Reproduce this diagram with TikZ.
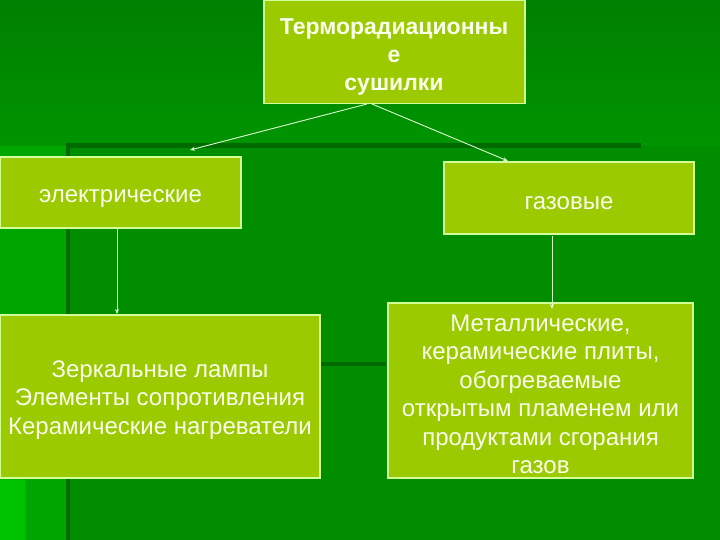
\documentclass[tikz,border=0pt]{standalone}
\usepackage{fontspec}
\setmainfont{Liberation Sans}
\usetikzlibrary{arrows.meta}
\definecolor{bgtopA}{RGB}{0,128,0}
\definecolor{bgtopB}{RGB}{0,148,0}
\definecolor{bgmain}{RGB}{0,142,0}
\definecolor{bgleft}{RGB}{0,166,0}
\definecolor{bgbright}{RGB}{0,195,0}
\definecolor{darkline}{RGB}{0,105,0}
\definecolor{boxfill}{RGB}{155,202,0}
\definecolor{boxedge}{RGB}{210,255,150}
\definecolor{txt}{RGB}{250,255,235}
\definecolor{arr}{RGB}{220,255,210}
\tikzset{
  box/.style={draw=boxedge, line width=1.2pt, fill=boxfill, inner sep=0pt},
  lbl/.style={text=txt, align=center, inner sep=0pt, anchor=center},
  bodyfont/.style={font=\fontsize{24}{28.5}\selectfont},
  titlefont/.style={font=\fontsize{23}{28}\selectfont\bfseries},
  conn/.style={draw=arr, line width=0.9pt, -{Stealth[length=5pt,width=4pt]}}
}
\begin{document}
\begin{tikzpicture}[x=1pt,y=-1pt]
\useasboundingbox (0,0) rectangle (720,540);
% background
\shade[top color=bgtopA, bottom color=bgtopB] (0,0) rectangle (720,146);
\fill[bgmain] (0,146) rectangle (720,540);
\fill[bgleft] (0,146) rectangle (67,540);
\shade[top color=bgleft, bottom color=bgbright] (0,420) rectangle (25,540);
\fill[bgbright] (0,480) rectangle (25,540);
\fill[darkline] (66,143) rectangle (641,148);
\fill[darkline] (66,143) rectangle (70,540);
\fill[darkline] (320,362) rectangle (386,366);
% boxes
\node[box, minimum width=261pt, minimum height=103pt] (top) at (394.5,52) {};
\node[box, minimum width=241pt, minimum height=71pt] (el) at (120.5,192.5) {};
\node[box, minimum width=250pt, minimum height=72pt] (gas) at (569,198) {};
\node[box, minimum width=320pt, minimum height=163pt] (lamp) at (160,396.5) {};
\node[box, minimum width=305pt, minimum height=175pt] (met) at (540.5,390.5) {};
% texts
\node[lbl, titlefont] (topT) at (394,57) {Терморадиационны\\е\\сушилки};
\node[lbl, bodyfont] (elT) at (120.5,199) {электрические};
\node[lbl, bodyfont] (gasT) at (569,203) {газовые};
\node[lbl, bodyfont] (lampT) at (160,400) {Зеркальные лампы\\Элементы сопротивления\\Керамические нагреватели};
\node[lbl, bodyfont] (metT) at (540.5,394.5) {Металлические,\\керамические плиты,\\обогреваемые\\открытым пламенем или\\продуктами сгорания\\газов};
% connectors
\coordinate (t1) at (367,104);
\coordinate (t2) at (372,104);
\coordinate (e1) at (190,150);
\coordinate (g1) at (508,161);
\coordinate (e2) at (117,229);
\coordinate (l1) at (117,314);
\coordinate (g2) at (552,236);
\coordinate (m1) at (552,309);
\draw[conn] (t1) -- (e1);
\draw[conn] (t2) -- (g1);
\draw[conn] (e2) -- (l1);
\draw[conn] (g2) -- (m1);
\end{tikzpicture}
\end{document}
